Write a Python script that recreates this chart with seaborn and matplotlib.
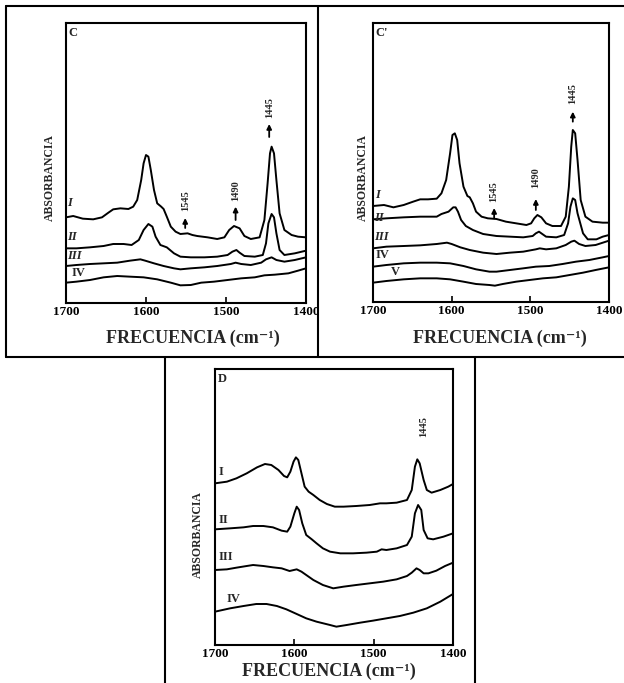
import matplotlib
matplotlib.use("Agg")
import matplotlib.pyplot as plt
from matplotlib.lines import Line2D
import pandas as pd
import seaborn as sns

# ---------------- data (arbitrary absorbance units) ----------------
TICKS = [1700, 1600, 1500, 1400]

# Panel C
C_I_nu = [1700, 1691, 1679, 1666, 1655, 1647, 1641, 1632, 1622, 1616, 1611, 1606, 1603, 1600, 1597, 1594,
          1590, 1586, 1581, 1578, 1574, 1569, 1563, 1557, 1548, 1542, 1536, 1523, 1511, 1502, 1496, 1490,
          1483, 1477, 1469, 1458, 1452, 1448, 1445, 1443, 1440, 1437, 1433, 1427, 1418, 1410, 1400]
C_I_a = [263, 267, 259, 257, 263, 277, 287, 290, 288, 295, 315, 375, 425, 450, 445, 405,
         345, 305, 295, 288, 265, 235, 220, 213, 215, 210, 207, 203, 198, 203, 225, 237,
         230, 207, 198, 203, 255, 365, 455, 475, 455, 375, 275, 225, 210, 205, 203]
C_II_nu = [1700, 1687, 1670, 1653, 1641, 1628, 1618, 1609, 1603, 1597, 1592, 1588, 1582, 1574, 1565, 1557,
           1544, 1527, 1511, 1498, 1492, 1487, 1483, 1477, 1464, 1454, 1450, 1447, 1443, 1440, 1437, 1433,
           1427, 1414, 1400]
C_II_a = [170, 170, 173, 177, 183, 183, 180, 195, 225, 243, 235, 205, 180, 173, 155, 145,
          143, 143, 145, 150, 160, 165, 157, 147, 145, 150, 185, 245, 273, 263, 215, 165,
          150, 155, 163]
C_III_nu = [1700, 1687, 1670, 1653, 1636, 1620, 1607, 1601, 1590, 1578, 1565, 1557, 1544, 1527, 1511, 1494,
            1488, 1481, 1469, 1456, 1450, 1443, 1437, 1427, 1414, 1400]
C_III_a = [117, 120, 123, 125, 127, 133, 137, 133, 125, 117, 110, 107, 110, 113, 117, 123,
           127, 123, 120, 127, 137, 143, 135, 130, 135, 143]
C_IV_nu = [1700, 1687, 1670, 1653, 1636, 1620, 1603, 1586, 1569, 1557, 1544, 1531, 1515, 1498, 1481, 1464,
           1452, 1439, 1422, 1410, 1400]
C_IV_a = [67, 70, 75, 83, 87, 85, 83, 77, 67, 59, 60, 67, 70, 75, 80, 83, 89, 91, 95, 103, 110]

# Panel C'
Cp_I_nu = [1700, 1686, 1674, 1661, 1649, 1640, 1630, 1619, 1613, 1607, 1602, 1599, 1596, 1593, 1590, 1585,
           1580, 1577, 1573, 1569, 1562, 1554, 1543, 1531, 1518, 1505, 1499, 1495, 1491, 1486, 1480, 1472,
           1461, 1455, 1451, 1448, 1446, 1443, 1440, 1436, 1430, 1421, 1408, 1400]
Cp_I_a = [288, 291, 284, 291, 301, 308, 308, 310, 326, 366, 446, 501, 506, 486, 416, 346,
          318, 314, 296, 271, 256, 251, 249, 241, 236, 231, 236, 251, 261, 254, 236, 228,
          228, 256, 346, 466, 516, 506, 426, 306, 256, 241, 238, 238]
Cp_II_nu = [1700, 1683, 1661, 1640, 1619, 1613, 1604, 1598, 1595, 1592, 1588, 1582, 1573, 1560, 1543, 1526,
            1509, 1497, 1493, 1489, 1486, 1480, 1467, 1457, 1452, 1449, 1446, 1443, 1440, 1433, 1427, 1416,
            1408, 1400]
Cp_II_a = [248, 251, 254, 256, 256, 264, 271, 284, 284, 271, 246, 228, 216, 204, 198, 196,
           194, 198, 206, 211, 206, 196, 194, 201, 236, 286, 311, 306, 266, 206, 188, 188,
           196, 201]
Cp_III_nu = [1700, 1683, 1661, 1640, 1619, 1606, 1600, 1589, 1577, 1560, 1543, 1526, 1509, 1493, 1488, 1480,
             1467, 1455, 1448, 1444, 1438, 1430, 1417, 1400]
Cp_III_a = [161, 166, 168, 170, 174, 178, 174, 164, 156, 148, 144, 148, 151, 158, 161, 158,
            161, 171, 181, 184, 174, 168, 171, 184]
Cp_IV_nu = [1700, 1683, 1661, 1640, 1619, 1602, 1585, 1569, 1552, 1543, 1526, 1509, 1493, 1476, 1459, 1442,
            1425, 1408, 1400]
Cp_IV_a = [106, 111, 116, 118, 118, 116, 108, 98, 91, 91, 96, 101, 106, 108, 114, 121, 126, 134, 138]
Cp_V_nu = [1700, 1683, 1661, 1640, 1619, 1602, 1585, 1569, 1552, 1545, 1535, 1518, 1501, 1484, 1467, 1450,
           1433, 1417, 1400]
Cp_V_a = [58, 63, 68, 71, 71, 68, 61, 54, 51, 49, 54, 61, 66, 71, 74, 81, 88, 96, 104]

# Panel D
D_I_nu = [1700, 1685, 1673, 1660, 1647, 1637, 1629, 1620, 1613, 1609, 1605, 1601, 1598, 1595, 1591, 1587,
          1582, 1576, 1568, 1559, 1549, 1538, 1522, 1505, 1492, 1484, 1471, 1458, 1452, 1448, 1445, 1442,
          1437, 1433, 1427, 1416, 1406, 1400]
D_I_a = [485, 490, 500, 515, 533, 543, 540, 525, 507, 503, 520, 550, 563, 555, 515, 475,
         460, 450, 435, 423, 415, 415, 417, 420, 425, 425, 427, 435, 465, 535, 557, 545,
         495, 465, 457, 465, 475, 483]
D_II_nu = [1700, 1681, 1664, 1652, 1639, 1627, 1616, 1609, 1605, 1600, 1597, 1594, 1590, 1585, 1578, 1572,
           1564, 1555, 1542, 1526, 1509, 1496, 1490, 1484, 1471, 1458, 1452, 1448, 1444, 1440, 1437, 1432,
           1425, 1412, 1400]
D_II_a = [347, 350, 353, 357, 357, 353, 343, 340, 355, 395, 415, 405, 365, 330, 317, 305,
          290, 280, 275, 275, 277, 280, 287, 285, 290, 300, 325, 395, 420, 405, 345, 320,
          317, 325, 335]
D_III_nu = [1700, 1685, 1673, 1660, 1652, 1639, 1627, 1616, 1606, 1597, 1591, 1585, 1576, 1564, 1551, 1538,
            1522, 1505, 1488, 1471, 1458, 1452, 1446, 1442, 1437, 1431, 1421, 1410, 1400]
D_III_a = [225, 227, 232, 237, 240, 237, 233, 230, 222, 227, 220, 210, 195, 180, 170, 175,
           180, 185, 190, 197, 207, 217, 230, 225, 215, 215, 223, 237, 247]
D_IV_nu = [1700, 1681, 1664, 1648, 1635, 1622, 1610, 1597, 1585, 1572, 1555, 1547, 1534, 1517, 1501, 1484,
           1467, 1450, 1433, 1416, 1400]
D_IV_a = [100, 110, 117, 123, 123, 117, 107, 93, 80, 70, 60, 55, 60, 67, 73, 80, 87, 97, 110, 130, 153]

# curve labels (roman numerals) and their anchor positions
C_names = ["I", "II", "III", "IV"]
C_lab_x = [1698, 1698, 1698, 1693]
C_lab_y = [305, 205, 147, 97]
Cp_names = ["I", "II", "III", "IV", "V"]
Cp_lab_x = [1697, 1698, 1698, 1697, 1677]
Cp_lab_y = [321, 253, 194, 141, 91]
D_names = ["I", "II", "III", "IV"]
D_lab_x = [1695, 1695, 1696, 1686]
D_lab_y = [520, 375, 263, 137]

# peak annotations: text, wavenumber, text height, arrow head, arrow tail (None = no arrow)
C_ann_txt = ["1545", "1490", "1445"]
C_ann_nu = [1551, 1488, 1446]
C_ann_ty = [312, 342, 591]
C_ann_head = [261, 295, 543]
C_ann_tail = [231, 255, 504]
Cp_ann_txt = ["1545", "1490", "1445"]
Cp_ann_nu = [1546, 1493, 1446]
Cp_ann_ty = [331, 374, 624]
Cp_ann_head = [282, 309, 571]
Cp_ann_tail = [251, 276, 541]
D_ann_txt = ["1445"]
D_ann_nu = [1437]
D_ann_ty = [655]
D_ann_head = [None]
D_ann_tail = [None]

# ---------------- styling ----------------
sns.set_theme(style="white")
plt.rcParams["font.family"] = ["Liberation Serif", "DejaVu Serif"]

W, H = 624, 683
fig = plt.figure(figsize=(W / 100, H / 100), dpi=100)
fig.patch.set_facecolor("white")


def fx(px):
    return px / W


def fy(py):
    return 1 - py / H


def make_ax(l, t, r, b):
    return fig.add_axes([fx(l), fy(b), fx(r) - fx(l), fy(t) - fy(b)])


def draw_panel(ax, curves, ylim, names, lx, ly, italic, atxt, anu, aty, ahead, atail, letter):
    frames = []
    for name, nu, a in curves:
        frames.append(pd.DataFrame({"nu": nu, "A": a, "curve": name}))
    df = pd.concat(frames, ignore_index=True)
    sns.lineplot(data=df, x="nu", y="A", units="curve", estimator=None, sort=False,
                 color="black", lw=1.4, ax=ax, legend=False)
    ax.set_xlim(1700, 1400)
    ax.set_ylim(*ylim)
    ax.set_xticks(TICKS)
    ax.set_xticklabels([str(t) for t in TICKS], fontweight="bold", fontsize=9.5)
    ax.set_yticks([])
    ax.set_xlabel("")
    ax.set_ylabel("")
    ax.tick_params(axis="x", direction="in", length=4, width=1.2, pad=2, bottom=True, colors="black")
    for s in ax.spines.values():
        s.set_visible(True)
        s.set_color("black")
        s.set_linewidth(1.5)
    for i, n in enumerate(names):
        ax.text(lx[i], ly[i], n, fontsize=9, fontweight="bold",
                fontstyle="italic" if italic[i] else "normal", ha="left", va="center")
    for i, t in enumerate(atxt):
        ax.text(anu[i], aty[i], t, rotation=90, fontsize=7.5, fontweight="bold", ha="center", va="center")
        if ahead[i] is not None:
            ax.annotate("", xy=(anu[i], ahead[i]), xytext=(anu[i], atail[i]),
                        arrowprops=dict(arrowstyle="-|>", color="black", lw=1.3, mutation_scale=7,
                                        shrinkA=0, shrinkB=0))
    ax.text(0.01, 0.985, letter, transform=ax.transAxes, fontsize=9, fontweight="bold", ha="left", va="top")


# Panel C
axC = make_ax(66, 23, 306, 303)
draw_panel(axC,
           [("I", C_I_nu, C_I_a), ("II", C_II_nu, C_II_a), ("III", C_III_nu, C_III_a), ("IV", C_IV_nu, C_IV_a)],
           (6, 846), C_names, C_lab_x, C_lab_y, [True, True, True, False],
           C_ann_txt, C_ann_nu, C_ann_ty, C_ann_head, C_ann_tail, "C")

# Panel C'
axCp = make_ax(373, 23, 609, 302)
draw_panel(axCp,
           [("I", Cp_I_nu, Cp_I_a), ("II", Cp_II_nu, Cp_II_a), ("III", Cp_III_nu, Cp_III_a),
            ("IV", Cp_IV_nu, Cp_IV_a), ("V", Cp_V_nu, Cp_V_a)],
           (0, 837), Cp_names, Cp_lab_x, Cp_lab_y, [True, True, True, False, False],
           Cp_ann_txt, Cp_ann_nu, Cp_ann_ty, Cp_ann_head, Cp_ann_tail, "C'")

# Panel D
axD = make_ax(215, 369, 453, 645)
draw_panel(axD,
           [("I", D_I_nu, D_I_a), ("II", D_II_nu, D_II_a), ("III", D_III_nu, D_III_a), ("IV", D_IV_nu, D_IV_a)],
           (0, 828), D_names, D_lab_x, D_lab_y, [False, False, False, False],
           D_ann_txt, D_ann_nu, D_ann_ty, D_ann_head, D_ann_tail, "D")

# axis titles placed as in the scan
xlab = "FRECUENCIA (cm\u207b\u00b9)"
for cx, cy in [(193, 338), (500, 338), (329, 671)]:
    fig.text(fx(cx), fy(cy), xlab, fontsize=13, fontweight="bold", ha="center", va="center",
             family=["Liberation Serif", "DejaVu Serif"])
for cx, cy in [(50, 178), (363, 178), (198, 535)]:
    fig.text(fx(cx), fy(cy), "ABSORBANCIA", fontsize=8.5, fontweight="bold", rotation=90,
             ha="center", va="center")


# scanned panel frames
def fline(x0, y0, x1, y1):
    fig.add_artist(Line2D([fx(x0), fx(x1)], [fy(y0), fy(y1)], color="black", lw=1.5))


fline(6, 6, 624, 6)
fline(6, 6, 6, 357)
fline(318, 6, 318, 357)
fline(6, 357, 624, 357)
fline(165, 357, 165, 683)
fline(475, 357, 475, 683)

fig.savefig("out.png", dpi=100, facecolor="white")
